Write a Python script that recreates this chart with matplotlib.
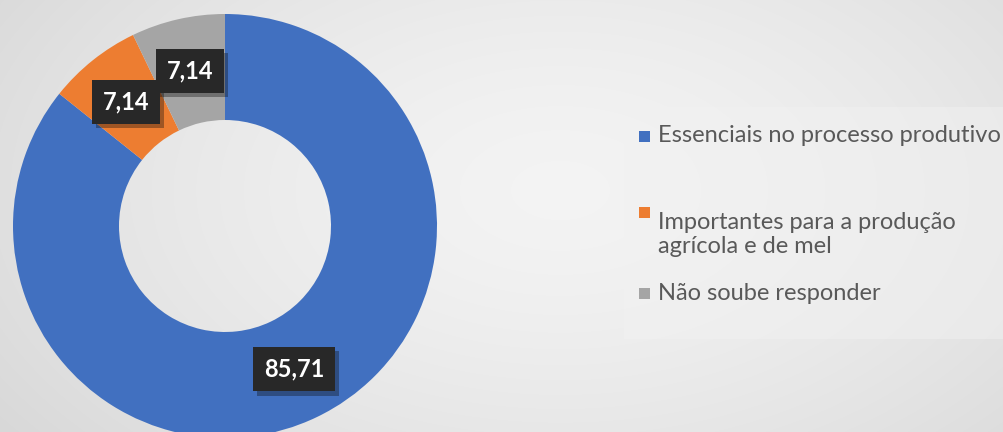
import numpy as np
import matplotlib
matplotlib.use("Agg")
import matplotlib.pyplot as plt
from matplotlib.patches import Rectangle
import matplotlib.patheffects as pe

# ── data ──────────────────────────────────────────────────────────────────────
categories = ["Essenciais no processo produtivo",
              "Importantes para a produção\nagrícola e de mel",
              "Não soube responder"]
values = [85.71, 7.14, 7.14]
value_labels = ["85,71", "7,14", "7,14"]
colors = ["#4170C0", "#ED7D31", "#A5A5A5"]

plt.rcParams["font.family"] = ["Lato", "DejaVu Sans"]

fig = plt.figure(figsize=(10.04, 4.32), dpi=100)

# ── background gradient ──────────────────────────────────────────────────────
bg = fig.add_axes([0, 0, 1, 1])
h, w = 432, 1004
yy, xx = np.mgrid[0:h, 0:w]
d = np.sqrt(((xx - 560) / 700.0) ** 2 + ((yy - 190) / 420.0) ** 2)
shade = 0.955 - 0.11 * np.clip(d, 0, 1.3) ** 1.5
bg.imshow(np.dstack([shade] * 3), extent=[0, 1, 0, 1], aspect="auto", origin="upper")
bg.set_xlim(0, 1)
bg.set_ylim(0, 1)
bg.axis("off")

# legend panel
bg.add_patch(Rectangle((624 / w, 1 - 339 / h), 380 / w, 232 / h,
                       facecolor="#f1f1f1", edgecolor="none", alpha=0.5))

# ── donut ─────────────────────────────────────────────────────────────────────
ax = fig.add_axes([13 / w, -6 / h, 424 / w, 424 / h])
ax.set_facecolor("none")
wedges, _ = ax.pie(values, colors=colors, startangle=90, counterclock=False,
                   radius=1.0, wedgeprops=dict(width=0.5, edgecolor="none"))
ax.set_xlim(-1, 1)
ax.set_ylim(-1, 1)
ax.set_aspect("equal")
ax.axis("off")

for wdg, lab in zip(wedges, value_labels):
    ang = np.deg2rad((wdg.theta1 + wdg.theta2) / 2)
    t = ax.text(0.75 * np.cos(ang), 0.75 * np.sin(ang), lab, ha="center", va="center",
                fontsize=17, fontweight="bold", color="white",
                bbox=dict(boxstyle="square,pad=0.45", facecolor="#282828", edgecolor="none"))
    t.get_bbox_patch().set_path_effects([pe.SimplePatchShadow(offset=(3, -3), alpha=0.35),
                                         pe.Normal()])

# ── legend ────────────────────────────────────────────────────────────────────
rows_y = [136, 212, 293]
for cat, col, y in zip(categories, colors, rows_y):
    bg.add_patch(Rectangle((639 / w, 1 - (y + 6) / h), 11 / w, 11 / h,
                           facecolor=col, edgecolor="none"))
    fig.text(658 / w, 1 - y / h, cat, ha="left", va="center" if "\n" not in cat else "top",
             fontsize=17, color="#595959", linespacing=1.15)

fig.savefig("out.png", dpi=100)
